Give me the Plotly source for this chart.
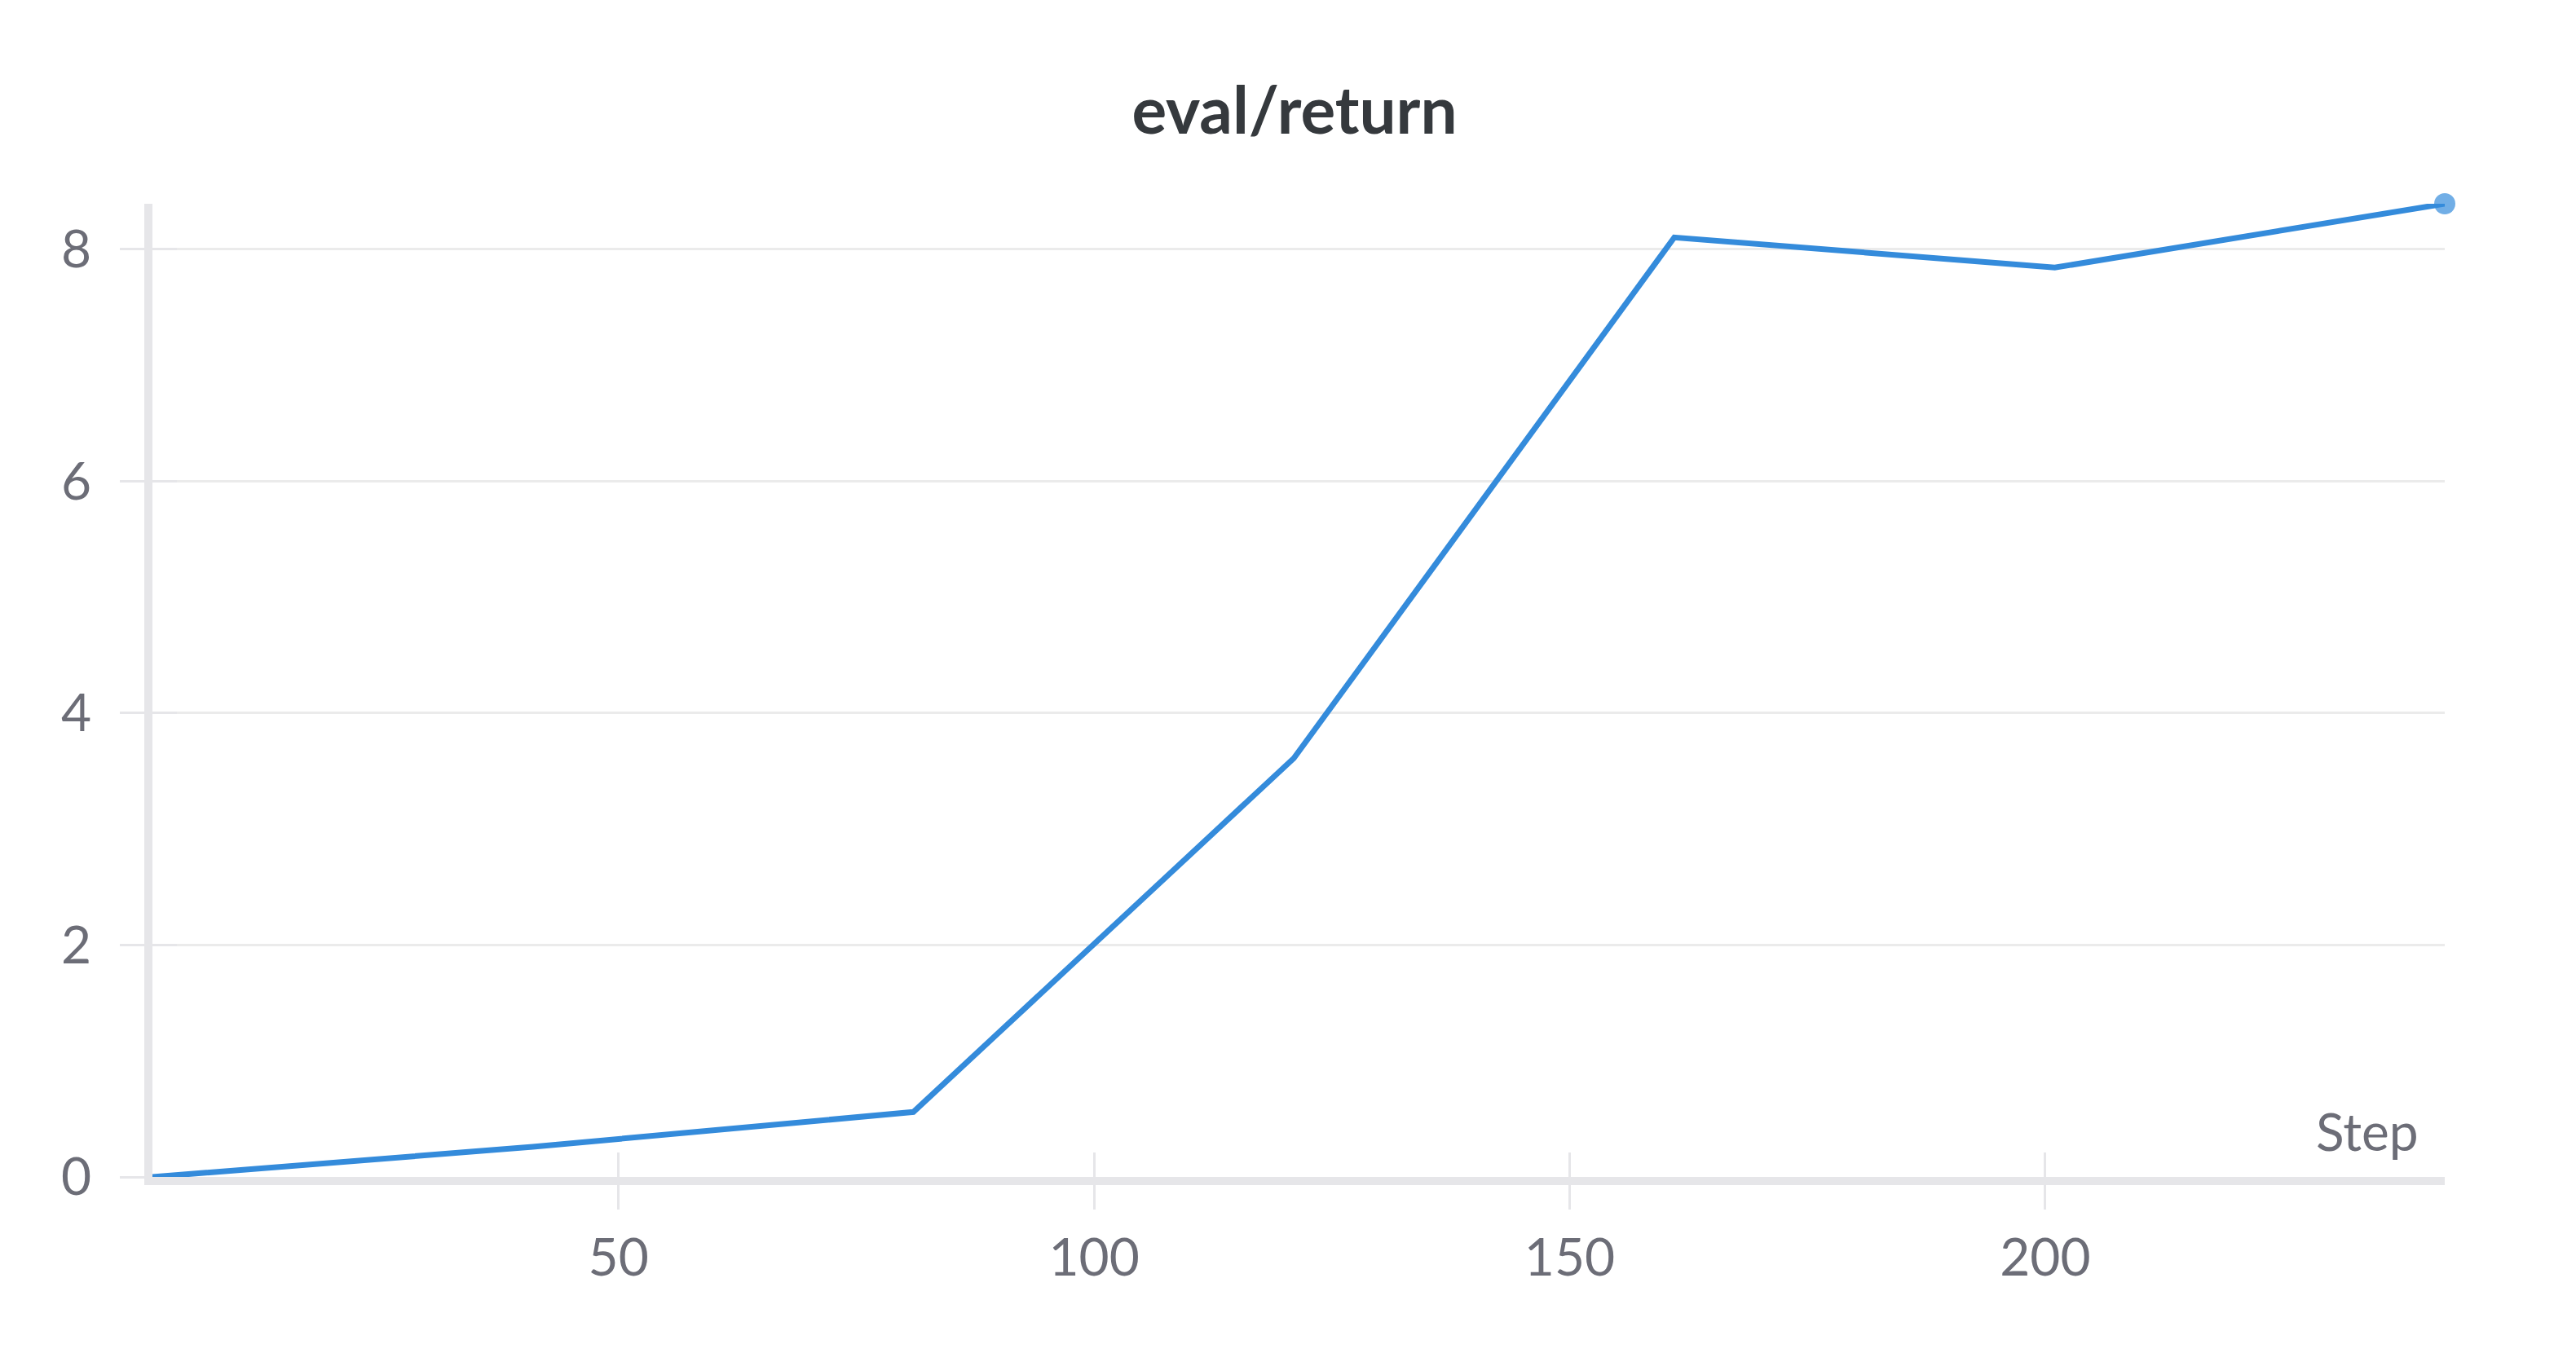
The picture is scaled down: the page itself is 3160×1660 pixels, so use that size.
import plotly.graph_objects as go

LINE_COLOR = '#348bdb'
AXIS_COLOR = '#e6e6e9'
GRID_COLOR = '#ebebeb'
TEXT_COLOR = '#6c6d77'
FONT = 'Source Sans Pro, Lato, sans-serif'

steps = [1, 41, 81, 121, 161, 201, 242]
returns = [0.0, 0.26, 0.56, 3.61, 8.10, 7.84, 8.39]

x_ticks = [50, 100, 150, 200]
y_ticks = [0, 2, 4, 6, 8]

# only the last point gets a dot
marker_sizes = [0] * (len(steps) - 1) + [26]

fig = go.Figure()

fig.add_trace(go.Scatter(
    x=steps,
    y=returns,
    mode='lines+markers',
    line=dict(color=LINE_COLOR, width=7),
    marker=dict(color=LINE_COLOR, size=marker_sizes, line=dict(width=0)),
    cliponaxis=False,
    showlegend=False,
    hoverinfo='x+y'
))

# invisible copy so the overlay axes (inside half of the ticks) get drawn
fig.add_trace(go.Scatter(
    x=steps,
    y=returns,
    xaxis='x2',
    yaxis='y2',
    mode='lines',
    line=dict(width=0),
    opacity=0,
    showlegend=False,
    hoverinfo='skip'
))

fig.update_layout(
    width=3160,
    height=1660,
    paper_bgcolor='white',
    plot_bgcolor='white',
    margin=dict(l=179, r=169, t=242, b=224),
    font=dict(family=FONT, color=TEXT_COLOR, size=64),
    title=dict(
        text='<b>eval/return</b>',
        x=0.5,
        xanchor='center',
        y=1 - 128 / 1660,
        yanchor='middle',
        font=dict(family=FONT, size=80, color='#35393d')
    ),
    xaxis=dict(
        range=[steps[0], steps[-1]],
        tickvals=x_ticks,
        ticks='outside',
        ticklen=30,
        tickwidth=3,
        tickcolor=AXIS_COLOR,
        showgrid=False,
        zeroline=False,
        showline=True,
        linecolor=AXIS_COLOR,
        linewidth=10,
        ticklabelstandoff=4,
        tickfont=dict(size=64, color=TEXT_COLOR)
    ),
    yaxis=dict(
        range=[0, returns[-1]],
        tickvals=y_ticks,
        ticks='outside',
        ticklen=30,
        tickwidth=3,
        tickcolor=AXIS_COLOR,
        showgrid=True,
        gridcolor=GRID_COLOR,
        gridwidth=3,
        zeroline=False,
        showline=True,
        linecolor=AXIS_COLOR,
        linewidth=10,
        ticklabelstandoff=22,
        tickfont=dict(size=64, color=TEXT_COLOR)
    ),
    xaxis2=dict(
        overlaying='x',
        matches='x',
        side='bottom',
        tickvals=x_ticks,
        ticks='inside',
        ticklen=30,
        tickwidth=3,
        tickcolor=AXIS_COLOR,
        showticklabels=False,
        showgrid=False,
        zeroline=False,
        showline=False
    ),
    yaxis2=dict(
        overlaying='y',
        matches='y',
        side='left',
        tickvals=y_ticks,
        ticks='inside',
        ticklen=30,
        tickwidth=3,
        tickcolor=AXIS_COLOR,
        showticklabels=False,
        showgrid=False,
        zeroline=False,
        showline=False
    ),
    annotations=[dict(
        text='Step',
        xref='paper',
        yref='paper',
        x=1,
        y=0,
        xanchor='right',
        yanchor='bottom',
        xshift=-30,
        yshift=16,
        showarrow=False,
        font=dict(family=FONT, size=64, color=TEXT_COLOR)
    )]
)

fig.write_html('out.html')
